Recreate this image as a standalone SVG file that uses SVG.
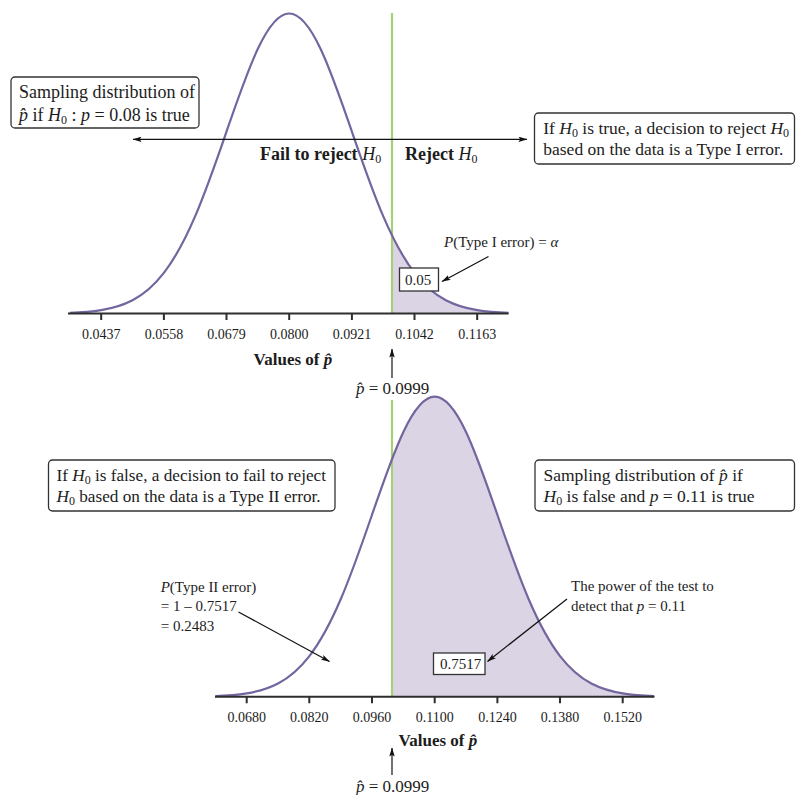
<svg xmlns="http://www.w3.org/2000/svg" width="796" height="795" viewBox="0 0 796 795">
<defs>
<style>
.t{font-family:"Liberation Serif","Times New Roman",serif;fill:#1c1c1c}
.bx{font-size:17.5px}
.an{font-size:15px}
.tk{font-size:14px;text-anchor:middle}
.bl{font-size:18px;font-weight:bold}
.vl{font-size:17px;font-weight:bold}
.i{font-style:italic}
.s{font-size:12px;font-style:normal;font-weight:normal}
.frame{fill:#fff;stroke:#333;stroke-width:1.3}
.curve{fill:none;stroke:#73659f;stroke-width:2.2}
.area{fill:#dbd4e4;stroke:none}
.crit{stroke:#a6cf78;stroke-width:2.2}
.axis{stroke:#2e2e2e;stroke-width:2;fill:none}
.arr{stroke:#111;stroke-width:1.2;fill:none}
</style>
<marker id="ah" viewBox="0 0 10 6" refX="9.5" refY="3" markerWidth="9" markerHeight="5.4" markerUnits="userSpaceOnUse" orient="auto-start-reverse"><path d="M0,0 L10,3 L0,6 L2,3 Z" fill="#111"/></marker>
<path id="bell" d="M-219.33,-0.66 C-208.89,-1.05 -198.45,-1.67 -188,-3.33 C-177.56,-5 -167.11,-7.69 -156.67,-13.18 C-146.22,-18.67 -135.78,-27.07 -125.33,-40.6 C-114.89,-54.13 -104.45,-73.05 -94,-97.4 C-83.55,-121.75 -73.11,-151.63 -62.67,-181.96 C-52.22,-212.29 -41.78,-242.69 -31.33,-264.75 C-20.89,-286.81 -10.45,-300 0,-300 C10.45,-300 20.89,-286.81 31.33,-264.75 C41.78,-242.69 52.22,-212.29 62.67,-181.96 C73.11,-151.63 83.55,-121.75 94,-97.4 C104.45,-73.05 114.89,-54.13 125.33,-40.6 C135.78,-27.07 146.22,-18.67 156.67,-13.18 C167.11,-7.69 177.56,-5 188,-3.33 C198.45,-1.67 208.89,-1.05 219.33,-0.66"/>
<path id="bellArea" d="M-219.33,-0.66 C-208.89,-1.05 -198.45,-1.67 -188,-3.33 C-177.56,-5 -167.11,-7.69 -156.67,-13.18 C-146.22,-18.67 -135.78,-27.07 -125.33,-40.6 C-114.89,-54.13 -104.45,-73.05 -94,-97.4 C-83.55,-121.75 -73.11,-151.63 -62.67,-181.96 C-52.22,-212.29 -41.78,-242.69 -31.33,-264.75 C-20.89,-286.81 -10.45,-300 0,-300 C10.45,-300 20.89,-286.81 31.33,-264.75 C41.78,-242.69 52.22,-212.29 62.67,-181.96 C73.11,-151.63 83.55,-121.75 94,-97.4 C104.45,-73.05 114.89,-54.13 125.33,-40.6 C135.78,-27.07 146.22,-18.67 156.67,-13.18 C167.11,-7.69 177.56,-5 188,-3.33 C198.45,-1.67 208.89,-1.05 219.33,-0.66 L219.33,0 L-219.33,0 Z"/>
<clipPath id="clipTop" clipPathUnits="userSpaceOnUse"><rect x="392" y="0" width="200" height="314"/></clipPath>
<clipPath id="clipBot" clipPathUnits="userSpaceOnUse"><rect x="392" y="390" width="300" height="307"/></clipPath>
</defs>
<rect width="796" height="795" fill="#fff"/>

<!-- TOP PANEL -->
<g id="dist-top">
<g clip-path="url(#clipTop)"><use href="#bellArea" class="area" transform="translate(289.2,313.5)"/></g>
<line class="crit" x1="392" y1="13" x2="392" y2="313.5"/>
<use href="#bell" class="curve" transform="translate(289.2,313.5)"/>
</g>
<g id="axis-top">
<line class="axis" x1="68" y1="313.5" x2="508.5" y2="313.5"/>
<path class="axis" d="M101.2,313.5v6.5M163.9,313.5v6.5M226.5,313.5v6.5M289.2,313.5v6.5M351.9,313.5v6.5M414.5,313.5v6.5M477.2,313.5v6.5"/>
<g class="t tk">
<text x="101.2" y="339">0.0437</text>
<text x="163.9" y="339">0.0558</text>
<text x="226.5" y="339">0.0679</text>
<text x="289.2" y="339">0.0800</text>
<text x="351.9" y="339">0.0921</text>
<text x="414.5" y="339">0.1042</text>
<text x="477.2" y="339">0.1163</text>
</g>
<text class="t vl" x="253.5" y="364.5">Values of <tspan class="i">p&#x302;</tspan></text>
</g>
<g id="box-top-left">
<rect class="frame" x="11" y="77" width="188" height="51" rx="4"/>
<text class="t" font-size="18" x="19" y="98">Sampling distribution of</text>
<text class="t" font-size="18" x="19" y="120.5"><tspan class="i">p&#x302;</tspan> if <tspan class="i">H</tspan><tspan class="s" dy="3">0</tspan><tspan dy="-3"> : </tspan><tspan class="i">p</tspan> = 0.08 is true</text>
</g>
<g id="box-top-right">
<rect class="frame" x="534.5" y="113" width="260" height="51" rx="4"/>
<text class="t bx" x="543.3" y="133.5"><tspan>If </tspan><tspan class="i">H</tspan><tspan class="s" dy="3">0</tspan><tspan dy="-3"> is true, a decision to reject </tspan><tspan class="i">H</tspan><tspan class="s" dy="3">0</tspan></text>
<text class="t bx" x="543.3" y="155">based on the data is a Type I error.</text>
</g>
<g id="label-fail">
<text class="t bl" x="260" y="160">Fail to reject <tspan class="i" font-weight="normal">H</tspan><tspan class="s" dy="3">0</tspan></text>
</g>
<g id="label-reject">
<text class="t bl" x="405" y="160">Reject <tspan class="i" font-weight="normal">H</tspan><tspan class="s" dy="3">0</tspan></text>
</g>
<g id="label-alpha">
<text class="t an" x="444" y="247"><tspan class="i">P</tspan>(Type I error) = <tspan class="i">α</tspan></text>
</g>
<g id="box-alpha">
<rect class="frame" x="399.5" y="268" width="39" height="23"/>
<text class="t an" x="405" y="285">0.05</text>
</g>
<g id="label-phat-top">
<text class="t" font-size="17" x="356" y="394"><tspan class="i">p&#x302;</tspan> = 0.0999</text>
</g>

<!-- BOTTOM PANEL -->
<g id="dist-bottom">
<g clip-path="url(#clipBot)"><use href="#bellArea" class="area" transform="translate(434.7,696.7)"/></g>
<line class="crit" x1="392" y1="400" x2="392" y2="696.7"/>
<use href="#bell" class="curve" transform="translate(434.7,696.7)"/>
</g>
<g id="axis-bottom">
<line class="axis" x1="215" y1="696.7" x2="654.5" y2="696.7"/>
<path class="axis" d="M246.7,696.7v6.5M309.3,696.7v6.5M372,696.7v6.5M434.7,696.7v6.5M497.4,696.7v6.5M560,696.7v6.5M622.7,696.7v6.5"/>
<g class="t tk">
<text x="246.7" y="722">0.0680</text>
<text x="309.3" y="722">0.0820</text>
<text x="372" y="722">0.0960</text>
<text x="434.7" y="722">0.1100</text>
<text x="497.4" y="722">0.1240</text>
<text x="560" y="722">0.1380</text>
<text x="622.7" y="722">0.1520</text>
</g>
<text class="t vl" x="398.5" y="746">Values of <tspan class="i">p&#x302;</tspan></text>
</g>
<g id="box-bottom-left">
<rect class="frame" x="48.5" y="460" width="286.5" height="51" rx="4"/>
<text class="t" font-size="17.2" x="56.5" y="480.5">If <tspan class="i">H</tspan><tspan class="s" dy="3">0</tspan><tspan dy="-3"> is false, a decision to fail to reject</tspan></text>
<text class="t" font-size="17.2" x="56.5" y="502"><tspan class="i">H</tspan><tspan class="s" dy="3">0</tspan><tspan dy="-3"> based on the data is a Type II error.</tspan></text>
</g>
<g id="box-bottom-right">
<rect class="frame" x="535" y="460" width="259.5" height="51" rx="4"/>
<text class="t bx" x="543.5" y="480.5">Sampling distribution of <tspan class="i">p&#x302;</tspan> if</text>
<text class="t bx" x="543.5" y="502"><tspan class="i">H</tspan><tspan class="s" dy="3">0</tspan><tspan dy="-3"> is false and </tspan><tspan class="i">p</tspan> = 0.11 is true</text>
</g>
<g id="label-beta">
<text class="t an" x="160.7" y="591.5"><tspan class="i">P</tspan>(Type II error)</text>
<text class="t an" x="160.7" y="611">= 1 – 0.7517</text>
<text class="t an" x="160.7" y="631">= 0.2483</text>
</g>
<g id="label-power">
<text class="t an" x="571" y="591">The power of the test to</text>
<text class="t an" x="571" y="611">detect that <tspan class="i">p</tspan> = 0.11</text>
</g>
<g id="box-power">
<rect class="frame" x="433.5" y="653" width="51.5" height="21.5"/>
<text class="t an" x="440" y="669">0.7517</text>
</g>
<g id="label-phat-bottom">
<text class="t" font-size="17" x="356" y="792"><tspan class="i">p&#x302;</tspan> = 0.0999</text>
</g>

<g id="connectors">
<line class="arr" x1="133" y1="139.3" x2="527" y2="139.3" marker-start="url(#ah)" marker-end="url(#ah)"/>
<line class="arr" x1="488.5" y1="256.5" x2="442" y2="281.5" marker-end="url(#ah)"/>
<line class="arr" x1="392" y1="378" x2="392" y2="349" marker-end="url(#ah)"/>
<line class="arr" x1="238.5" y1="612" x2="329.5" y2="661.5" marker-end="url(#ah)"/>
<line class="arr" x1="567" y1="599" x2="487.5" y2="661.5" marker-end="url(#ah)"/>
<line class="arr" x1="392" y1="775" x2="392" y2="748" marker-end="url(#ah)"/>
</g>
</svg>
